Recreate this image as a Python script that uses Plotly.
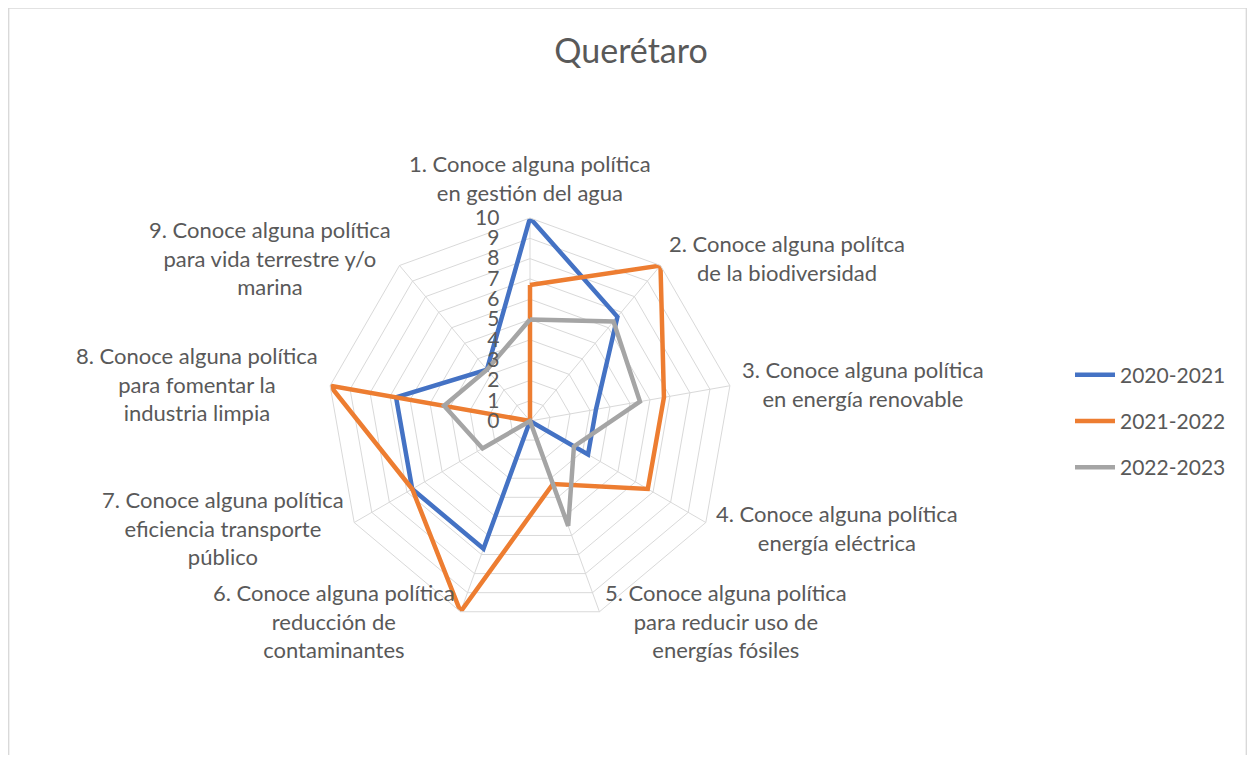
import math
import plotly.graph_objects as go

categorias = [
    "1. Conoce alguna política<br>en gestión del agua",
    "2. Conoce alguna polítca<br>de la biodiversidad",
    "3. Conoce alguna política<br>en energía renovable",
    "4. Conoce alguna política<br>energía eléctrica",
    "5. Conoce alguna política<br>para reducir uso de<br>energías fósiles",
    "6. Conoce alguna política<br>reducción de<br>contaminantes",
    "7. Conoce alguna política<br>eficiencia transporte<br>público",
    "8. Conoce alguna política<br>para fomentar la<br>industria limpia",
    "9. Conoce alguna política<br>para vida terrestre y/o<br>marina",
]

periodos = ["2020-2021", "2021-2022", "2022-2023"]
v_2020_2021 = [10, 6.7, 3.3, 3.3, 0, 6.7, 6.7, 6.7, 3.3]
v_2021_2022 = [6.7, 10, 6.7, 6.7, 3.3, 10, 6.7, 10, 0]
v_2022_2023 = [5, 6.4, 5.5, 2.5, 5.5, 0, 2.7, 4.3, 3.3]
colores = ["#4472C4", "#ED7D31", "#A5A5A5"]

# la página tiene 8px de margen en el body
W, H = 1239, 747
cx, cy, rad = 522, 413, 203
texto = "#595959"
fuente = "Lato, 'Open Sans', sans-serif"

fig = go.Figure()
for nombre, vals, col in zip(periodos, [v_2020_2021, v_2021_2022, v_2022_2023], colores):
    fig.add_trace(go.Scatterpolar(
        r=vals + vals[:1], theta=categorias + categorias[:1],
        mode="lines", name=nombre, legendgroup=nombre,
        line=dict(color=col, width=4.5),
    ))

# etiquetas de categoría centradas, como en Excel
etiquetas = []
n = len(categorias)
for i, cat in enumerate(categorias):
    ang = math.radians(90 - 360 / n * i)
    dx, dy = math.cos(ang), math.sin(ang)
    px = cx + (rad + 10) * dx
    py = cy - (rad + 10) * dy
    xa = "left" if dx > 0.3 else ("right" if dx < -0.3 else "center")
    ya = "bottom" if dy > 0.9 else "middle"
    etiquetas.append(dict(text=cat, x=px / W, y=1 - py / H, xref="paper", yref="paper",
                          xanchor=xa, yanchor=ya, align="center", showarrow=False,
                          font=dict(size=22, color=texto, family=fuente)))

fig.update_layout(
    width=W, height=H,
    margin=dict(l=0, r=0, t=0, b=0),
    paper_bgcolor="white",
    font=dict(family=fuente, color=texto, size=21),
    title=dict(text="Querétaro", x=623 / W, xanchor="center", y=1 - 43 / H, yanchor="middle",
               font=dict(size=34, color=texto, family=fuente)),
    polar=dict(
        domain=dict(x=[(cx - rad) / W, (cx + rad) / W], y=[(H - cy - rad) / H, (H - cy + rad) / H]),
        bgcolor="white",
        gridshape="linear",
        angularaxis=dict(rotation=90, direction="clockwise", showline=True, linecolor="#D9D9D9",
                         gridcolor="#D9D9D9", ticks="", showticklabels=False),
        radialaxis=dict(range=[0, 10], dtick=1, angle=90, tickangle=90, side="counterclockwise",
                        showline=False, gridcolor="#D9D9D9", ticks="",
                        ticksuffix="\u00a0" * 5, tickfont=dict(size=21, color=texto)),
    ),
    annotations=etiquetas,
    legend=dict(x=1062 / W, xanchor="left", y=1 - 413 / H, yanchor="middle",
                font=dict(size=21, color=texto), tracegroupgap=16, itemwidth=40),
    shapes=[dict(type="rect", xref="paper", yref="paper", x0=0.0005, x1=0.9995, y0=-0.05, y1=1,
                 line=dict(color="#D9D9D9", width=1.5))],
)

fig.write_html("out.html")
